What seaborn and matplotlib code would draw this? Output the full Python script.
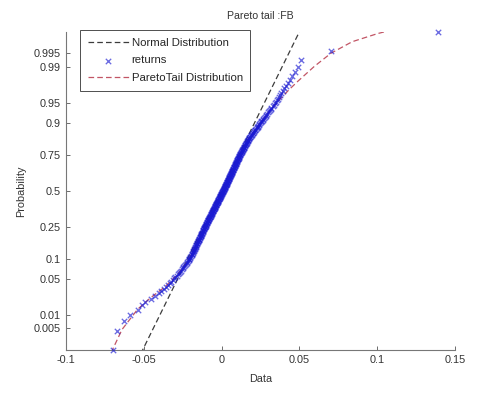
"""Normal probability plot of FB returns with a Pareto-tail fit."""

from statistics import NormalDist

import matplotlib

matplotlib.use("Agg")
import matplotlib.pyplot as plt
import numpy as np
import pandas as pd
import seaborn as sns

# sorted daily returns
returns = [
    -0.0699, -0.0670, -0.0628, -0.0586, -0.0535, -0.0511, -0.0489, -0.0454, -0.0427, -0.0405,
    -0.0388, -0.0371, -0.0357, -0.0345, -0.0334, -0.0323, -0.0314, -0.0305, -0.0296, -0.0288,
    -0.0281, -0.0273, -0.0267, -0.0262, -0.0256, -0.0250, -0.0245, -0.0239, -0.0234, -0.0229,
    -0.0224, -0.0219, -0.0216, -0.0212, -0.0209, -0.0206, -0.0203, -0.0200, -0.0197, -0.0193,
    -0.0191, -0.0188, -0.0186, -0.0184, -0.0181, -0.0179, -0.0177, -0.0175, -0.0173, -0.0171,
    -0.0169, -0.0167, -0.0165, -0.0163, -0.0161, -0.0159, -0.0157, -0.0155, -0.0153, -0.0151,
    -0.0149, -0.0148, -0.0146, -0.0144, -0.0142, -0.0141, -0.0139, -0.0137, -0.0135, -0.0133,
    -0.0132, -0.0130, -0.0129, -0.0127, -0.0125, -0.0124, -0.0122, -0.0121, -0.0119, -0.0117,
    -0.0116, -0.0114, -0.0113, -0.0111, -0.0110, -0.0109, -0.0107, -0.0106, -0.0104, -0.0103,
    -0.0101, -0.0100, -0.0098, -0.0097, -0.0095, -0.0094, -0.0092, -0.0091, -0.0089, -0.0088,
    -0.0087, -0.0085, -0.0084, -0.0082, -0.0081, -0.0079, -0.0078, -0.0076, -0.0075, -0.0074,
    -0.0072, -0.0071, -0.0070, -0.0068, -0.0067, -0.0065, -0.0064, -0.0063, -0.0061, -0.0060,
    -0.0059, -0.0057, -0.0056, -0.0055, -0.0053, -0.0052, -0.0051, -0.0049, -0.0048, -0.0047,
    -0.0045, -0.0044, -0.0043, -0.0042, -0.0040, -0.0039, -0.0038, -0.0036, -0.0035, -0.0034,
    -0.0033, -0.0031, -0.0030, -0.0029, -0.0027, -0.0026, -0.0025, -0.0024, -0.0022, -0.0021,
    -0.0020, -0.0019, -0.0017, -0.0016, -0.0015, -0.0013, -0.0012, -0.0011, -0.0010, -0.0008,
    -0.0007, -0.0006, -0.0005, -0.0003, -0.0002, -0.0001, 0.0001, 0.0002, 0.0003, 0.0005,
    0.0006, 0.0007, 0.0008, 0.0010, 0.0011, 0.0012, 0.0013, 0.0014, 0.0016, 0.0017,
    0.0018, 0.0019, 0.0020, 0.0021, 0.0023, 0.0024, 0.0025, 0.0026, 0.0027, 0.0028,
    0.0030, 0.0031, 0.0032, 0.0033, 0.0034, 0.0035, 0.0036, 0.0038, 0.0039, 0.0040,
    0.0041, 0.0042, 0.0043, 0.0045, 0.0046, 0.0047, 0.0048, 0.0049, 0.0050, 0.0052,
    0.0053, 0.0054, 0.0055, 0.0056, 0.0058, 0.0059, 0.0060, 0.0061, 0.0062, 0.0064,
    0.0065, 0.0066, 0.0067, 0.0069, 0.0070, 0.0071, 0.0072, 0.0074, 0.0075, 0.0076,
    0.0077, 0.0079, 0.0080, 0.0081, 0.0083, 0.0084, 0.0085, 0.0086, 0.0088, 0.0089,
    0.0090, 0.0092, 0.0093, 0.0094, 0.0096, 0.0097, 0.0098, 0.0100, 0.0101, 0.0102,
    0.0104, 0.0105, 0.0106, 0.0108, 0.0109, 0.0110, 0.0112, 0.0113, 0.0115, 0.0116,
    0.0118, 0.0120, 0.0121, 0.0123, 0.0125, 0.0127, 0.0129, 0.0131, 0.0132, 0.0134,
    0.0136, 0.0138, 0.0140, 0.0142, 0.0144, 0.0145, 0.0147, 0.0149, 0.0151, 0.0153,
    0.0155, 0.0157, 0.0159, 0.0161, 0.0164, 0.0166, 0.0168, 0.0170, 0.0172, 0.0174,
    0.0176, 0.0179, 0.0182, 0.0185, 0.0188, 0.0191, 0.0194, 0.0197, 0.0200, 0.0204,
    0.0207, 0.0211, 0.0214, 0.0218, 0.0221, 0.0225, 0.0228, 0.0232, 0.0235, 0.0239,
    0.0243, 0.0247, 0.0251, 0.0256, 0.0260, 0.0264, 0.0269, 0.0274, 0.0278, 0.0283,
    0.0288, 0.0293, 0.0299, 0.0304, 0.0309, 0.0315, 0.0321, 0.0328, 0.0334, 0.0341,
    0.0347, 0.0354, 0.0361, 0.0368, 0.0376, 0.0384, 0.0393, 0.0403, 0.0413, 0.0425,
    0.0438, 0.0453, 0.0471, 0.0490, 0.0511, 0.0703, 0.1391,
]

# reference normal line (ends run past the axes)
normal_x = [-0.0544, 0.0537]
normal_p = [0.000687, 0.999313]

# fitted pareto-tail cdf
pareto_x = [-0.0718, -0.0699, -0.0640, -0.0540, -0.0455, -0.0360, -0.0285, -0.0220,
            -0.0195, -0.0107, 0.0010, 0.0117, 0.0180, 0.0250, 0.0310, 0.0370,
            0.0435, 0.0490, 0.0596, 0.0703, 0.0840, 0.1000, 0.1200]
pareto_p = [0.00069, 0.00151, 0.00466, 0.01318, 0.02275, 0.03673, 0.05821, 0.09176,
            0.11507, 0.25, 0.5, 0.75, 0.84134, 0.89973, 0.93319, 0.95543,
            0.97128, 0.98001, 0.99018, 0.99506, 0.99742, 0.99839, 0.99903]

prob_ticks = [0.005, 0.01, 0.05, 0.1, 0.25, 0.5, 0.75, 0.9, 0.95, 0.99, 0.995]
x_ticks = [-0.1, -0.05, 0, 0.05, 0.1, 0.15]
x_tick_labels = ["-0.1", "-0.05", "0", "0.05", "0.1", "0.15"]

_nd = NormalDist()
_inv = np.vectorize(_nd.inv_cdf, otypes=[float])
_cdf = np.vectorize(_nd.cdf, otypes=[float])


def _to_z(p):
    p = np.clip(np.asarray(p, dtype=float), 1e-9, 1 - 1e-9)
    return _inv(p)


def _to_p(z):
    return _cdf(np.asarray(z, dtype=float))


sns.set_theme(style="white")
plt.rcParams["font.family"] = ["Liberation Sans", "DejaVu Sans"]

df = pd.DataFrame({"ret": np.sort(returns)})
n = len(df)
df["prob"] = (np.arange(1, n + 1) - 0.5) / n

fig = plt.figure(figsize=(4.85, 3.94), dpi=100)
ax = fig.add_axes([0.136, 0.112, 0.802, 0.807])
ax.set_yscale("function", functions=(_to_z, _to_p))

sns.lineplot(x=normal_x, y=normal_p, ax=ax, sort=False, estimator=None,
             color="#3c3c3c", linestyle=(0, (4.5, 2.5)), linewidth=0.9,
             label="Normal Distribution", zorder=2)
sns.scatterplot(data=df, x="ret", y="prob", ax=ax, marker="x", color="#1a1ad2",
                s=15, linewidth=0.95, alpha=0.65, label="returns", zorder=4,
                clip_on=False)
sns.lineplot(x=pareto_x, y=pareto_p, ax=ax, sort=False, estimator=None,
             color="#c25565", linestyle=(0, (4.5, 2.5)), linewidth=0.9,
             label="ParetoTail Distribution", zorder=3)

ax.set_xlim(-0.1, 0.15)
ax.set_ylim(df["prob"].min(), df["prob"].max())
ax.set_xticks(x_ticks)
ax.set_xticklabels(x_tick_labels)
ax.set_yticks(prob_ticks)
ax.set_yticklabels([str(p) for p in prob_ticks])
ax.yaxis.set_minor_locator(matplotlib.ticker.NullLocator())
ax.tick_params(direction="in", length=3, width=0.6, colors="#555555",
               labelsize=7.8, labelcolor="#333333", left=True, bottom=True)

for side in ["top", "right"]:
    ax.spines[side].set_visible(False)
for side in ["left", "bottom"]:
    ax.spines[side].set_color("#777777")
    ax.spines[side].set_linewidth(0.8)

ax.set_title("Pareto tail :FB", fontsize=7.6, color="#333333", pad=9)
ax.set_xlabel("Data", fontsize=7.8, color="#333333", labelpad=7)
ax.set_ylabel("Probability", fontsize=7.8, color="#333333", labelpad=6)

leg = ax.legend(loc="upper left", bbox_to_anchor=(0.036, 1.006), fontsize=8.2,
                frameon=True, fancybox=False, handlelength=3.6, borderpad=0.68,
                labelspacing=0.68, handletextpad=0.25, borderaxespad=0)
leg.get_frame().set_edgecolor("#222222")
leg.get_frame().set_linewidth(0.7)

fig.savefig("out.png", dpi=100)
plt.close(fig)
